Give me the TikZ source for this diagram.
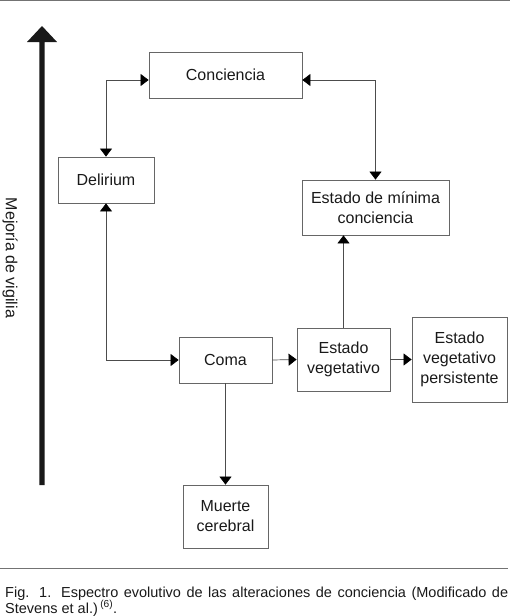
\documentclass[tikz,border=0pt]{standalone}
\usepackage{fontspec}
\setmainfont{Liberation Sans}
\usetikzlibrary{arrows.meta}
\begin{document}
\begin{tikzpicture}[x=1pt,y=-1pt,
  box/.style={draw=black!60, line width=0.8pt, align=center, inner sep=0pt,
    font=\fontsize{16}{20}\selectfont, text=black!90},
  conn/.style={draw=black!70, line width=0.7pt},
  >={Triangle[width=12pt,length=8pt,fill=black,color=black]},
  rule/.style={draw=black!55, line width=1pt},
  captext/.style={anchor=base west, inner sep=0pt, font=\fontsize{14.5}{16}\selectfont, text=black!90}
]
\useasboundingbox (0,0) rectangle (510,616);
% rules
\draw[rule] (0,0.6) -- (510,0.6);
\draw[rule] (0,568) -- (508,568);
% big arrow
\fill[black!90] (39.3,485) -- (39.3,42) -- (27,42) -- (42,26) -- (57,42) -- (44.7,42) -- (44.7,485) -- cycle;
\node[rotate=-90, inner sep=0pt, font=\fontsize{16}{20}\selectfont, text=black!90] (lab) at (10,258) {Mejoría de vigilia};
% boxes
\node[box, minimum width=153pt, minimum height=46pt] (con) at (225.5,75) {Conciencia};
\node[box, minimum width=96pt, minimum height=46pt] (del) at (106,180) {Delirium};
\node[box, minimum width=147pt, minimum height=55pt] (emc) at (375.5,207.5) {Estado de mínima\\conciencia};
\node[box, minimum width=93pt, minimum height=46pt] (coma) at (225.5,360) {Coma};
\node[box, minimum width=93pt, minimum height=63pt] (ev) at (343.5,359.5) {Estado\\vegetativo};
\node[box, minimum width=95pt, minimum height=85pt] (evp) at (459.5,359.5) {Estado\\vegetativo\\persistente};
\node[box, minimum width=85pt, minimum height=63pt] (mue) at (225.5,516.5) {Muerte\\cerebral};
% connectors
\draw[conn,<->] (del.north) |- ([yshift=-5pt]con.west);
\draw[conn,<->] ([yshift=-5pt]con.east) -| (emc.north);
\draw[conn,<->] (del.south) |- (coma.west);
\draw[conn,->] (coma.east) -- (ev.west);
\draw[conn,->] (ev.north) -- (ev.north |- emc.south);
\draw[conn,->] (ev.east) -- (evp.west);
\draw[conn,->] (coma.south) -- (mue.north);
% caption
\node[captext] (cap1) at (5,597) {\makebox[503pt][s]{Fig. 1. Espectro evolutivo de las alteraciones de conciencia (Modificado de}};
\node[captext] (cap2) at (5,613) {Stevens et al.)\,\textsuperscript{(6)}.};
\end{tikzpicture}
\end{document}
